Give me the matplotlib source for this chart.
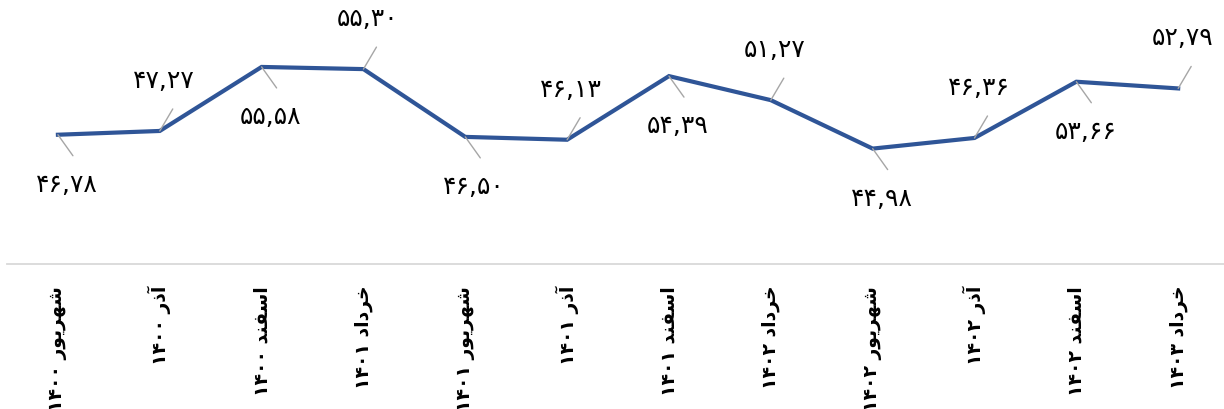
import matplotlib
matplotlib.use("Agg")
import matplotlib.pyplot as plt

# months (Persian calendar) and index values
months = ["شهریور", "آذر", "اسفند", "خرداد", "شهریور", "آذر", "اسفند",
          "خرداد", "شهریور", "آذر", "اسفند", "خرداد"]
years = ["۱۴۰۰", "۱۴۰۰", "۱۴۰۰", "۱۴۰۱", "۱۴۰۱", "۱۴۰۱", "۱۴۰۱",
         "۱۴۰۲", "۱۴۰۲", "۱۴۰۲", "۱۴۰۲", "۱۴۰۳"]
values = [46.78, 47.27, 55.58, 55.30, 46.50, 46.13, 54.39, 51.27,
          44.98, 46.36, 53.66, 52.79]

LINE_BLUE = "#2f5597"
LEADER = "#a6a6a6"

# presentation forms: isolated, final, initial, medial (None = no joining to next)
FORMS = {
    "ش": ("\uFEB5", "\uFEB6", "\uFEB7", "\uFEB8"),
    "ه": ("\uFEE9", "\uFEEA", "\uFEEB", "\uFEEC"),
    "ی": ("\uFBFC", "\uFBFD", "\uFBFE", "\uFBFF"),
    "س": ("\uFEB1", "\uFEB2", "\uFEB3", "\uFEB4"),
    "ف": ("\uFED1", "\uFED2", "\uFED3", "\uFED4"),
    "ن": ("\uFEE5", "\uFEE6", "\uFEE7", "\uFEE8"),
    "خ": ("\uFEA5", "\uFEA6", "\uFEA7", "\uFEA8"),
    "ر": ("\uFEAD", "\uFEAE", None, None),
    "و": ("\uFEED", "\uFEEE", None, None),
    "آ": ("\uFE81", "\uFE82", None, None),
    "ذ": ("\uFEAB", "\uFEAC", None, None),
    "ا": ("\uFE8D", "\uFE8E", None, None),
    "د": ("\uFEA9", "\uFEAA", None, None),
}


def shape(word):
    """join letters and return them in visual (left-to-right) order"""
    out = []
    for i, ch in enumerate(word):
        f = FORMS[ch]
        prev = i > 0 and FORMS[word[i - 1]][2] is not None
        nxt = i < len(word) - 1 and f[2] is not None
        if prev and nxt:
            out.append(f[3])
        elif prev:
            out.append(f[1])
        elif nxt:
            out.append(f[2])
        else:
            out.append(f[0])
    return "".join(reversed(out))


def fa_num(v):
    s = f"{v:.2f}".replace(".", ",")
    return s.translate(str.maketrans("0123456789", "۰۱۲۳۴۵۶۷۸۹"))


labels = [f"{y} {shape(m)}" for m, y in zip(months, years)]
x = list(range(len(values)))

fig = plt.figure(figsize=(12.24, 4.10), dpi=100)
ax = fig.add_axes([7 / 1224, 145 / 410, 1217 / 1224, 265 / 410])
ax.plot(x, values, color=LINE_BLUE, lw=3.0, solid_joinstyle="miter")
ax.set_xlim(-0.5, 11.45)
ax.set_ylim(30, 64.4)

for i, v in enumerate(values):
    above = i % 2 == 1
    lead = (13, 22) if above else (15, -21)
    off = (4, 51) if above else (9, -49)
    ax.annotate("", xy=(i, v), xytext=lead, textcoords="offset pixels",
                arrowprops=dict(arrowstyle="-", color=LEADER, lw=1.0,
                                shrinkA=0, shrinkB=0))
    ax.annotate(fa_num(v), xy=(i, v), xytext=off, textcoords="offset pixels",
                ha="center", va="center", fontsize=18, color="black",
                family="DejaVu Sans")

ax.set_xticks(x)
ax.set_xticklabels(labels, rotation=90, fontsize=13.5, fontweight="bold",
                   va="top", ha="center", family="DejaVu Sans")
ax.tick_params(axis="x", length=0, pad=15)
ax.set_yticks([])
for s in ["top", "left", "right"]:
    ax.spines[s].set_visible(False)
ax.spines["bottom"].set_color("#d9d9d9")
ax.spines["bottom"].set_linewidth(1.3)

fig.savefig("out.png", dpi=100)
